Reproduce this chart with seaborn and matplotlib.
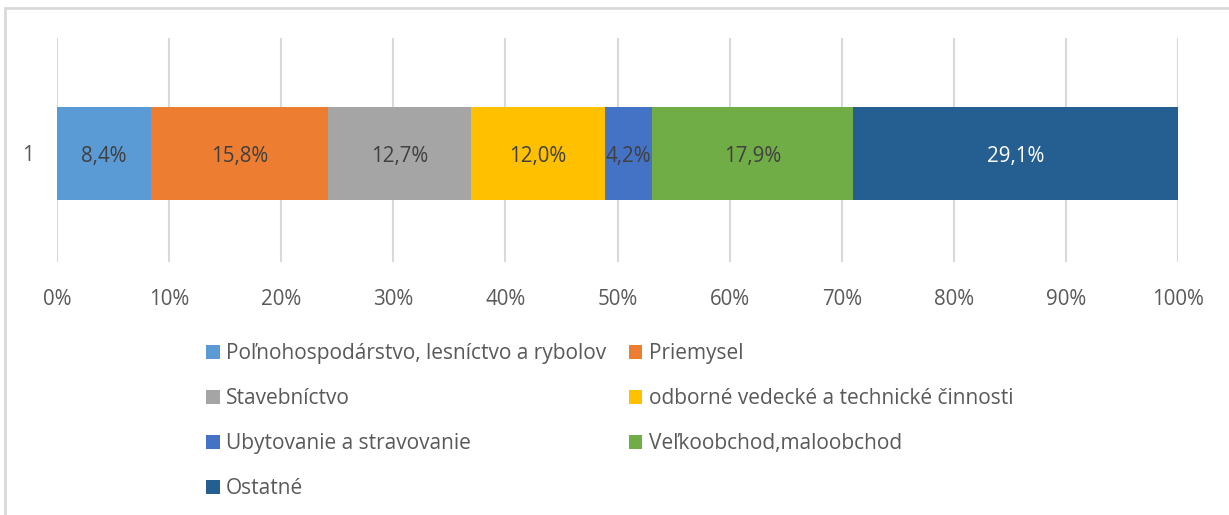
import matplotlib
matplotlib.use("Agg")
import matplotlib.pyplot as plt
import seaborn as sns
import pandas as pd
import numpy as np
from matplotlib.patches import Patch, Rectangle

categories = ["Poľnohospodárstvo, lesníctvo a rybolov", "Priemysel", "Stavebníctvo",
              "odborné vedecké a technické činnosti", "Ubytovanie a stravovanie",
              "Veľkoobchod,maloobchod", "Ostatné"]
values = [8.4, 15.8, 12.7, 12.0, 4.2, 17.9, 29.1]
labels = ["8,4%", "15,8%", "12,7%", "12,0%", "4,2%", "17,9%", "29,1%"]
colors = ["#5B9BD5", "#ED7D31", "#A5A5A5", "#FFC000", "#4472C4", "#70AD47", "#255E91"]
label_colors = ["#404040"] * 6 + ["#FFFFFF"]
row_label = "1"
xticks = [0, 10, 20, 30, 40, 50, 60, 70, 80, 90, 100]

sns.set_theme(style="white")
plt.rcParams['font.family'] = ['Open Sans', 'DejaVu Sans']

fig = plt.figure(figsize=(12.29, 5.15), dpi=100)
ax = fig.add_axes([57/1229, 1-262/515, 1121/1229, 224/515])

cum = np.cumsum(values)
df = pd.DataFrame({"cat": categories, "cum": cum, "row": [row_label]*len(values)})

for i in range(len(values)-1, -1, -1):
    sns.barplot(data=df.iloc[[i]], x="cum", y="row", orient="h", color=colors[i],
                width=0.415, saturation=1, ax=ax, linewidth=0, zorder=2)

starts = cum - np.array(values)
for i in range(len(values)):
    ax.text(starts[i] + values[i]/2, 0.015, labels[i], ha="center", va="center",
            color=label_colors[i], fontsize=14.8, zorder=3)

ax.set_xlim(0, 100)
ax.set_ylim(0.485, -0.515)
ax.set_xticks(xticks)
ax.set_xticklabels([f"{t}%" for t in xticks])
ax.set_xlabel("")
ax.set_ylabel("")
ax.grid(axis="x", color="#D9D9D9", linewidth=1.5, zorder=0)
ax.grid(axis="y", visible=False)
ax.set_axisbelow(True)
for s in ax.spines.values():
    s.set_visible(False)
ax.tick_params(axis="x", colors="#595959", labelsize=14.8, pad=19.5, length=0)
ax.tick_params(axis="y", colors="#595959", labelsize=14.8, pad=17, length=0)

order = [0, 2, 4, 6, 1, 3, 5]
handles = [Patch(facecolor=colors[i], edgecolor="none") for i in order]
leg = fig.legend(handles, [categories[i] for i in order], ncol=2, frameon=False,
                 loc="upper left", bbox_to_anchor=(206/1229, 1-343/515),
                 fontsize=15, labelcolor="#595959", handlelength=0.65, handleheight=0.65,
                 handletextpad=0.3, labelspacing=1.15, columnspacing=1.1,
                 borderpad=0, borderaxespad=0)

fig.patches.append(Rectangle((5/1229, -0.1), 1.2, 1-8/515+0.1, transform=fig.transFigure,
                             fill=False, edgecolor="#D9D9D9", linewidth=2, zorder=0))

fig.savefig("out.png", dpi=100)
